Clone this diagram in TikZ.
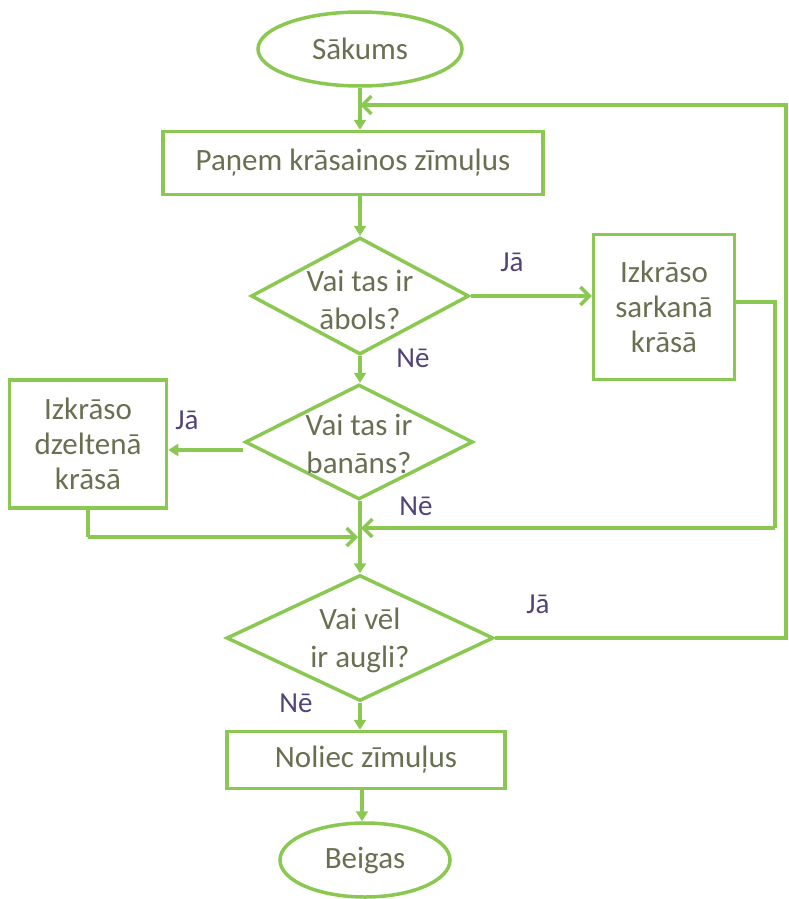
\documentclass[tikz,border=0pt]{standalone}
\usepackage{fontspec}
\setmainfont{Carlito}
\usetikzlibrary{shapes.geometric,arrows.meta}
\definecolor{lgreen}{RGB}{138,200,82}
\definecolor{ntext}{RGB}{105,112,82}
\definecolor{ltext}{RGB}{82,68,118}
\tikzset{
  txt/.style={font=\fontsize{31}{35}\selectfont,text=ntext,align=center},
  dtxt/.style={font=\fontsize{31}{38}\selectfont,text=ntext,align=center},
  base/.style={draw=lgreen,line width=3.5pt,txt,inner sep=0pt},
  term/.style={base,ellipse},
  proc/.style={base,rectangle},
  dec/.style={draw=lgreen,line width=3.5pt,diamond,inner sep=0pt},
  lab/.style={font=\fontsize{29}{30}\selectfont,text=ltext},
  flow/.style={draw=lgreen,line width=3.5pt,-{Triangle[width=12pt,length=10pt]}},
  back/.style={draw=lgreen,line width=3.5pt,-{Straight Barb[width=18pt,length=9pt,line width=3.5pt]}},
  plain/.style={draw=lgreen,line width=3.5pt},
}
\begin{document}
\begin{tikzpicture}[x=1pt,y=-1pt]
\useasboundingbox[fill=white] (0,0) rectangle (789,899);
\node[term,minimum width=204pt,minimum height=74pt] (start) at (360,49) {Sākums};
\node[proc,minimum width=380pt,minimum height=63pt] (take) at (353,163) {Paņem krāsainos zīmuļus};
\node[dec,minimum width=218pt,minimum height=117pt] (apple) at (360,296) {};
\node[dtxt] (appleT) at (360,300) {Vai tas ir\\ābols?};
\node[proc,minimum width=141pt,minimum height=145pt] (red) at (664,307) {Izkrāso\\sarkanā\\krāsā};
\node[dec,minimum width=228pt,minimum height=115pt] (banana) at (359,442) {};
\node[dtxt] (bananaT) at (359,444) {Vai tas ir\\banāns?};
\node[proc,minimum width=157pt,minimum height=128pt] (yellow) at (88,444) {Izkrāso\\dzeltenā\\krāsā};
\node[dec,minimum width=267pt,minimum height=126pt] (more) at (360,638) {};
\node[dtxt] (moreT) at (360,640) {Vai vēl\\ir augli?};
\node[proc,minimum width=278pt,minimum height=57pt] (put) at (366,760) {Noliec zīmuļus};
\node[term,minimum width=170pt,minimum height=74pt] (stop) at (365,860) {Beigas};

\node[lab] (l1) at (512,262) {Jā};
\node[lab] (l2) at (413,358) {Nē};
\node[lab] (l3) at (187,420) {Jā};
\node[lab] (l4) at (416,506) {Nē};
\node[lab] (l5) at (538,604) {Jā};
\node[lab] (l6) at (296,703) {Nē};

\coordinate (fbA) at (786,638);
\coordinate (fbB) at (786,105);
\coordinate (fbC) at (360,105);
\coordinate (rA) at (775,302);
\coordinate (rB) at (775,528);
\coordinate (rC) at (361,528);
\coordinate (yA) at (88,537);
\coordinate (yB) at (358,537);
\coordinate (jc) at (360,500);

\draw[flow] (start.south) -- (start.south |- take.north);
\draw[back] (more.east) -- (fbA) -- (fbB) -- (fbC);
\draw[flow] (take.south -| apple.north) -- (apple.north);
\draw[back] (apple.east) -- (apple.east -| red.west);
\draw[flow] (apple.south) -- (banana.north -| apple.south);
\draw[flow] (banana.west |- 0,450) -- (yellow.east |- 0,450);
\draw[plain] (red.east |- rA) -- (rA) -- (rB);
\draw[back] (rB) -- (rC);
\draw[plain] (yellow.south) -- (yA);
\draw[back] (yA) -- (yB);
\draw[flow] (banana.south -| jc) -- (more.north);
\draw[flow] (more.south) -- (more.south |- put.north);
\draw[flow] (put.south -| 362,0) -- (stop.north -| 362,0);
\end{tikzpicture}
\end{document}
